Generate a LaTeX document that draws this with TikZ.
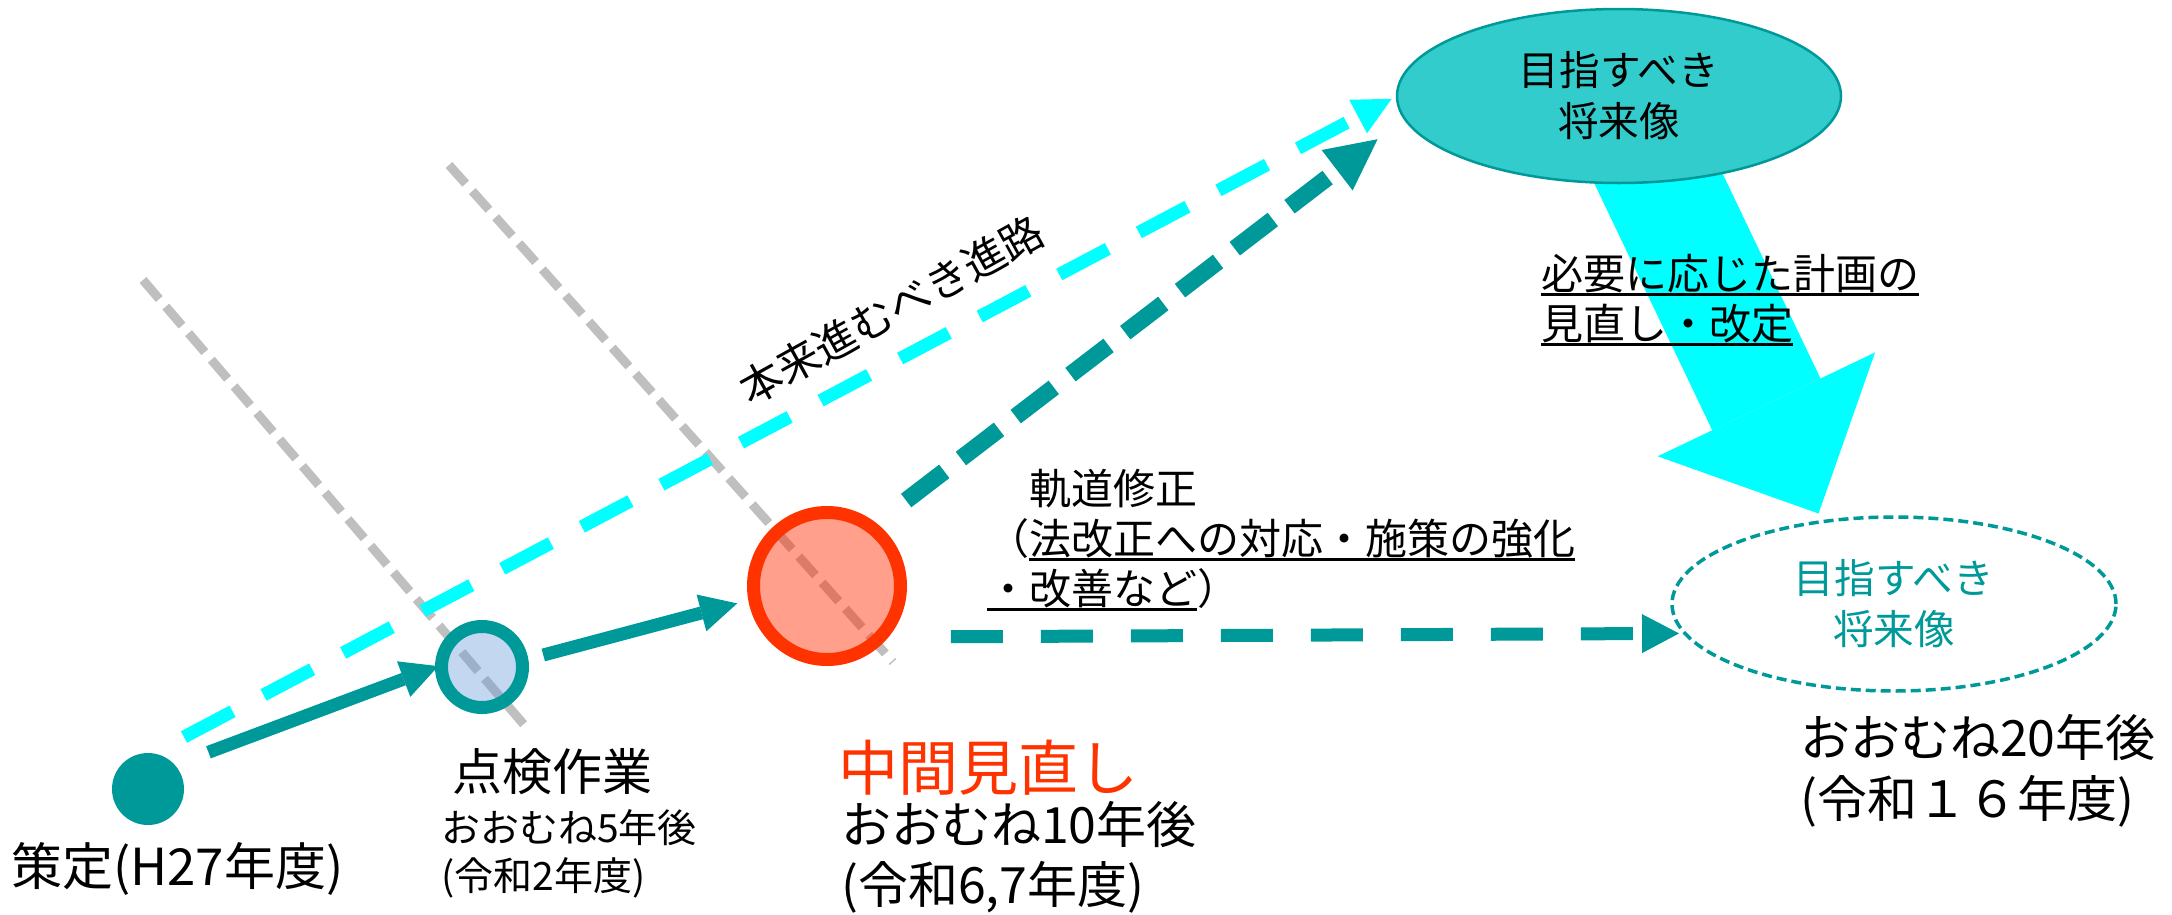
\documentclass[tikz,border=0pt]{standalone}
\usepackage{fontspec}
\setmainfont{Noto Sans CJK JP}
\usepackage{tikz}
\usetikzlibrary{arrows.meta,shapes.geometric,backgrounds}
\definecolor{tealc}{HTML}{009999}
\definecolor{aquac}{HTML}{00FFFF}
\definecolor{fillc}{HTML}{33CCCC}
\definecolor{redc}{HTML}{FF3300}
\definecolor{redfill}{HTML}{FF2A00}
\definecolor{grayc}{HTML}{BFBFBF}
\definecolor{bluec}{HTML}{6A9BDA}
\newcommand{\fsz}[2]{\fontsize{#1}{#2}\selectfont}
\newsavebox{\ulbox}
\newcommand{\undl}[1]{\sbox\ulbox{#1}\rlap{\vrule height -4pt depth 7pt width \wd\ulbox}\usebox\ulbox}

\begin{document}
\begin{tikzpicture}[x=1pt,y=-1pt,
  lbl/.style={inner sep=0pt,anchor=west,align=left},
  ring/.style={circle,inner sep=0pt,outer sep=0pt,line width=13pt},
  vision/.style={ellipse,inner sep=0pt,outer sep=0pt,minimum width=444pt,minimum height=174pt,align=center,font=\fsz{40.6}{51}},
  solidarr/.style={tealc,line width=13pt,-{Triangle[length=37pt,width=38pt,line width=0pt]}}]

\useasboundingbox (0,0) rectangle (2172,914);

\foreach \xa/\ya/\xb/\yb in {143/280/526/727,449/165/893/662}
{ \draw [grayc,line width=9pt,dash pattern=on 25pt off 10pt] (\xa,\ya)--(\xb,\yb);
}

\node (start) at (148,789) [circle,fill=tealc,inner sep=0pt,outer sep=0pt,minimum size=72pt] {};
\node (check) at (482,667) [ring,draw=tealc,fill=bluec,fill opacity=0.4,minimum size=81pt] {};
\node (mid) at (827,586) [ring,draw=redc,fill=redfill,fill opacity=0.45,minimum size=147pt] {};
\node (goal) at (1619,96) [vision,draw=tealc,line width=2.5pt,fill=fillc] {目指すべき\\将来像};
\node (goal2) at (1894,604) [vision,draw=tealc,line width=3.5pt,dash pattern=on 10pt off 5pt,text=tealc] {目指すべき\\将来像};

\begin{scope}[on background layer]
\draw [aquac,line width=120pt,-{Triangle[length=121pt,width=241pt,line width=0pt]},shorten >=9pt] (goal.center)--(goal2.131);
\end{scope}

\draw [solidarr,shorten <=36pt,shorten >=3.5pt] (start.42)--(check.177);
\draw [solidarr,shorten <=22pt,shorten >=18pt] (check.9)--(mid.190);
\draw [aquac,line width=13pt,dash pattern=on 55pt off 35pt,-{Triangle[length=38pt,width=38pt,line width=0pt]},shorten <=35pt,shorten >=6pt] (start.82)--(goal.west);
\draw [tealc,line width=17pt,dash pattern=on 48pt off 21pt,-{Triangle[length=51pt,width=51pt,line width=0pt]},shorten <=44pt,shorten >=34pt] (mid.53)--(goal.186);
\draw [tealc,line width=13pt,dash pattern=on 52pt off 38pt,-{Triangle[length=37pt,width=39pt,line width=0pt]},shorten <=71pt,shorten >=6pt] (mid.-44)--(goal2.188);

\node (route) at (891,310) [rotate=29,inner sep=0pt,font=\fsz{42.5}{50}] {本来進むべき進路};
\node (fix) at (987,540) [lbl,font=\fsz{42}{50}] {\hspace*{1em}軌道修正\\（\undl{法改正への対応・施策の強化}\\\undl{・改善など}）};
\node (note) at (1541,300) [lbl,font=\fsz{42}{50}] {\undl{必要に応じた計画の}\\\undl{見直し・改定}};

\node (t0) at (11,869) [lbl,font=\fsz{51}{61}] {策定(H27年度)};
\node (t1) at (452,772) [lbl,font=\fsz{50}{60}] {点検作業};
\node (t1b) at (441,854) [lbl,font=\fsz{39}{48}] {おおむね5年後\\(令和2年度)};
\node (t2) at (838,768) [lbl,font=\fsz{60}{70},text=redc] {中間見直し};
\node (t2b) at (841,857) [lbl,font=\fsz{50}{60}] {おおむね10年後\\(令和6,7年度)};
\node (t3) at (1800,771) [lbl,font=\fsz{50}{61}] {おおむね20年後\\(令和１６年度)};
\end{tikzpicture}
\end{document}
